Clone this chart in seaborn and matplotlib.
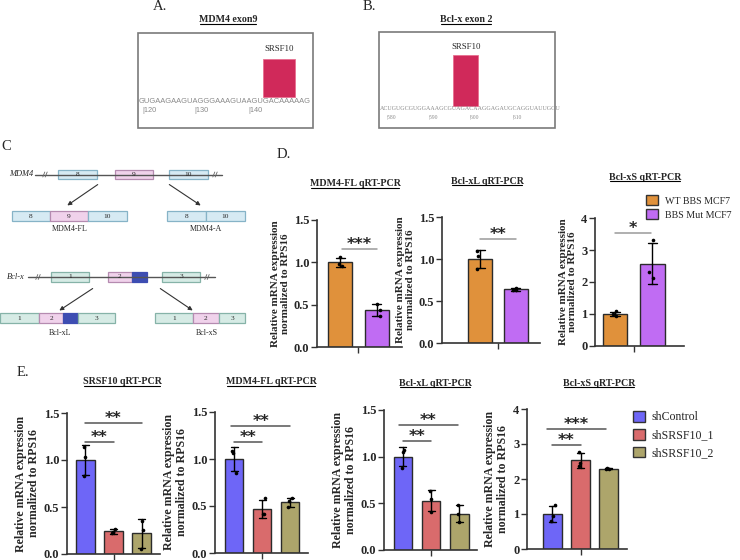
import numpy as np
import pandas as pd
import matplotlib
matplotlib.use('Agg')
import matplotlib.pyplot as plt
import seaborn as sns
from matplotlib.patches import Rectangle, Patch
from matplotlib.lines import Line2D

sns.set_style('ticks')
plt.rcParams['font.family'] = ['Liberation Serif', 'DejaVu Serif']
np.random.seed(3)

W, H = 740, 560

# ---- panel D data (BBS mutant) ----
d_groups = ['WT BBS MCF7', 'BBS Mut MCF7']
d_colors = ['#e0913b', '#c06cf3']
d_titles = ['MDM4-FL qRT-PCR', 'Bcl-xL qRT-PCR', 'Bcl-xS qRT-PCR']
d_reps = [
    [[1.06, 0.96, 0.98], [0.51, 0.44, 0.37]],
    [[1.09, 1.03, 0.88], [0.66, 0.63, 0.63]],
    [[1.08, 0.99, 0.93], [3.30, 2.30, 2.12]],
]
d_sig = [
    [(0.05, 1.0, 1.16, '***')],
    [(0.0, 1.0, 1.24, '**')],
    [(0.0, 0.95, 3.53, '*')],
]

# ---- panel E data (SRSF10 knockdown) ----
e_groups = ['shControl', 'shSRSF10_1', 'shSRSF10_2']
e_colors = ['#6e66f7', '#d96b6c', '#ada56b']
e_titles = ['SRSF10 qRT-PCR', 'MDM4-FL qRT-PCR', 'Bcl-xL qRT-PCR', 'Bcl-xS qRT-PCR']
e_reps = [
    [[1.14, 1.03, 0.83], [0.27, 0.23, 0.22], [0.35, 0.26, 0.05]],
    [[1.09, 1.06, 0.85], [0.58, 0.42, 0.41], [0.58, 0.55, 0.49]],
    [[1.07, 1.05, 0.88], [0.63, 0.55, 0.41], [0.48, 0.39, 0.30]],
    [[1.27, 0.93, 0.80], [2.78, 2.45, 2.36], [2.31, 2.30, 2.29]],
]
e_sig = [
    [(0, 1, 1.19, '**'), (0, 2, 1.39, '**')],
    [(0, 1, 1.18, '**'), (-0.1, 2, 1.35, '**')],
    [(0, 1, 1.17, '**'), (-0.15, 1.95, 1.34, '**')],
    [(0, 1, 2.97, '**'), (-0.2, 1.9, 3.43, '***')],
]

seq_a = 'GUGAAGAAGUAGGGAAAGUAAGUGACAAAAAG'
seq_b = 'ACUGUGCGUGGAAAGCGUAGACAAGGAGAUGCAGGUAUUGGU'

fig = plt.figure(figsize=(7.4, 5.6), dpi=100)
cv = fig.add_axes([0, 0, 1, 1])
cv.set_xlim(0, W)
cv.set_ylim(H, 0)
cv.axis('off')

underlined = []


def px_axes(x0, y0, x1, y1):
    return fig.add_axes([x0 / W, 1 - y1 / H, (x1 - x0) / W, (y1 - y0) / H])


def title(x, y, s, size=7.2):
    t = cv.text(x, y, s, ha='center', va='center', fontsize=size, fontweight='bold')
    underlined.append(t)


# panel letters
for x, y, s in [(160, 6, 'A.'), (369, 6, 'B.'), (6, 147, 'C'), (284, 154, 'D.'), (23, 373, 'E.')]:
    cv.text(x, y, s, ha='center', va='center', fontsize=10.5)

# ---- panel A / B: binding site boxes ----
title(228, 20, 'MDM4 exon9')
cv.add_patch(Rectangle((138, 33), 175, 95, fill=False, ec='#7a7a7a', lw=1.2))
cv.add_patch(Rectangle((263, 59), 32, 38, fc='#d0295a', ec='#e87090', lw=0.6))
cv.text(279, 49, 'SRSF10', ha='center', va='center', fontsize=6.3)
cv.text(138.5, 101.5, seq_a, ha='left', va='center', fontsize=5.45, color='#8a8a8a',
        family='Liberation Sans')
for x, s in [(142, '|120'), (194, '|130'), (248, '|140')]:
    cv.text(x, 111, s, ha='left', va='center', fontsize=5.3, color='#8a8a8a', family='Liberation Sans')

title(466, 20, 'Bcl-x exon 2')
cv.add_patch(Rectangle((379, 32), 176, 96, fill=False, ec='#7a7a7a', lw=1.2))
cv.add_patch(Rectangle((453, 55), 25, 51, fc='#d0295a', ec='#e87090', lw=0.6))
cv.text(466, 47, 'SRSF10', ha='center', va='center', fontsize=6.3)
cv.text(379.5, 109, seq_b, ha='left', va='center', fontsize=4.3, color='#8a8a8a')
for x, s in [(387, '|580'), (429, '|590'), (470, '|600'), (513, '|610')]:
    cv.text(x, 117, s, ha='left', va='center', fontsize=4.0, color='#8a8a8a')

# ---- panel C: splicing diagram ----
blue_fc, blue_ec = '#d6eaf3', '#86b3c7'
pink_fc, pink_ec = '#f0d2eb', '#b58bb0'
teal_fc, teal_ec = '#d6ebe5', '#86b3a8'
dark_fc = '#3d4db2'


def exon(x0, x1, y0, y1, fc, ec, lab=None):
    cv.add_patch(Rectangle((x0, y0), x1 - x0, y1 - y0, fc=fc, ec=ec, lw=0.9))
    if lab:
        cv.text((x0 + x1) / 2, (y0 + y1) / 2, lab, ha='center', va='center', fontsize=5.3)


def brk(x, y):
    for dx in (-1.2, 1.2):
        cv.plot([x + dx - 1, x + dx + 1], [y + 2.5, y - 2.5], color='#666', lw=0.6)


def arrow(x0, y0, x1, y1):
    cv.annotate('', xy=(x1, y1), xytext=(x0, y0),
                arrowprops=dict(arrowstyle='-|>', color='#333', lw=0.8, mutation_scale=6))


# MDM4 gene
cv.plot([35, 222], [174.5, 174.5], color='#555', lw=1)
brk(45, 174.5)
brk(215, 174.5)
cv.text(21, 174.5, 'MDM4', ha='center', va='center', fontsize=6, style='italic')
exon(58, 97, 170, 179, blue_fc, blue_ec, '8')
exon(115, 153, 170, 179, pink_fc, pink_ec, '9')
exon(169, 208, 170, 179, blue_fc, blue_ec, '10')
arrow(100, 183, 65, 207)
arrow(167, 183, 203, 207)
exon(12, 50, 211, 221, blue_fc, blue_ec, '8')
exon(50, 88, 211, 221, pink_fc, pink_ec, '9')
exon(88, 127, 211, 221, blue_fc, blue_ec, '10')
cv.text(70, 229, 'MDM4-FL', ha='center', va='center', fontsize=5.8)
exon(167, 206, 211, 221, blue_fc, blue_ec, '8')
exon(206, 245, 211, 221, blue_fc, blue_ec, '10')
cv.text(206, 229, 'MDM4-A', ha='center', va='center', fontsize=5.8)

# Bcl-x gene
cv.plot([28, 215], [277, 277], color='#555', lw=1)
brk(38, 277)
brk(207, 277)
cv.text(16, 277, 'Bcl-x', ha='center', va='center', fontsize=6, style='italic')
exon(51, 89, 272, 282, teal_fc, teal_ec, '1')
exon(108, 132, 272, 282, pink_fc, pink_ec, '2')
exon(132, 147, 272, 282, dark_fc, dark_fc)
exon(162, 200, 272, 282, teal_fc, teal_ec, '3')
arrow(95, 287, 57, 312)
arrow(158, 287, 195, 312)
exon(0, 39, 313, 323, teal_fc, teal_ec, '1')
exon(39, 63, 313, 323, pink_fc, pink_ec, '2')
exon(63, 78, 313, 323, dark_fc, dark_fc)
exon(78, 115, 313, 323, teal_fc, teal_ec, '3')
cv.text(60, 333, 'Bcl-xL', ha='center', va='center', fontsize=5.8)
exon(155, 193, 313, 323, teal_fc, teal_ec, '1')
exon(193, 219, 313, 323, pink_fc, pink_ec, '2')
exon(219, 245, 313, 323, teal_fc, teal_ec, '3')
cv.text(207, 333, 'Bcl-xS', ha='center', va='center', fontsize=5.8)


# ---- bar charts ----
def bar_panel(box, xlim, ylim, yticks, fmt, groups, colors, reps, sig, mid, sig_color, lab_size):
    ax = px_axes(*box)
    df = pd.DataFrame({'group': np.repeat(groups, 3), 'value': np.concatenate(reps)})
    sns.barplot(data=df, x='group', y='value', hue='group', order=groups, hue_order=groups,
                palette=colors, saturation=1, errorbar='sd', capsize=0.25, width=0.66,
                edgecolor='#2b2b2b', linewidth=1, err_kws={'color': 'black', 'linewidth': 1},
                legend=False, ax=ax)
    sns.stripplot(data=df, x='group', y='value', order=groups, color='black', size=2.6,
                  jitter=0.1, ax=ax, zorder=5)
    for x1, x2, y, s in sig:
        ax.plot([x1, x2], [y, y], color=sig_color, lw=1.1, clip_on=False)
        ax.text((x1 + x2) / 2, y, s, ha='center', va='baseline', fontsize=11.5,
                fontweight='bold', family='DejaVu Sans', clip_on=False)
    ax.set_xlim(*xlim)
    ax.set_ylim(*ylim)
    ax.set_yticks(yticks)
    ax.set_yticklabels([fmt.format(t) for t in yticks], fontweight='bold', fontsize=9)
    ax.set_xticks([mid])
    ax.set_xticklabels([])
    ax.set_xlabel('')
    ax.set_ylabel('Relative mRNA expression\nnormalized to RPS16', fontweight='bold',
                  fontsize=lab_size, linespacing=1.05, labelpad=3)
    ax.tick_params(axis='both', direction='out', length=4, width=1, color='#333', pad=1.5)
    ax.spines[['top', 'right']].set_visible(False)
    for sp in ('left', 'bottom'):
        ax.spines[sp].set_linewidth(1.2)
        ax.spines[sp].set_color('#333')
    ax.set_facecolor('none')
    return ax


d_boxes = [(317, 220, 402, 347), (442, 217, 540, 343), (595, 218, 684, 346)]
d_xlims = [(-0.63, 1.69), (-1.06, 1.67), (-0.53, 1.84)]
d_ylims = [(0, 1.5), (0, 1.5), (0, 4)]
d_ticks = [[0, 0.5, 1.0, 1.5], [0, 0.5, 1.0, 1.5], [0, 1, 2, 3, 4]]
d_fmt = ['{:.1f}', '{:.1f}', '{:.0f}']
d_title_pos = [(355, 184), (487, 181), (645, 177)]
for i in range(3):
    bar_panel(d_boxes[i], d_xlims[i], d_ylims[i], d_ticks[i], d_fmt[i], d_groups, d_colors,
              d_reps[i], d_sig[i], 0.5, '#9a9a9a', 8)
    title(*d_title_pos[i], d_titles[i])

e_boxes = [(67, 413, 160, 554), (215, 412, 308, 553), (384, 410, 477, 550), (527, 409, 627, 549)]
e_xlims = [(-0.65, 2.65), (-0.68, 2.64), (-0.67, 2.63), (-0.91, 2.66)]
e_ylims = [(0, 1.5), (0, 1.5), (0, 1.5), (0, 4)]
e_ticks = [[0, 0.5, 1.0, 1.5]] * 3 + [[0, 1, 2, 3, 4]]
e_fmt = ['{:.1f}'] * 3 + ['{:.0f}']
e_title_pos = [(122, 382), (271, 382), (435, 383), (599, 383)]
for i in range(4):
    bar_panel(e_boxes[i], e_xlims[i], e_ylims[i], e_ticks[i], e_fmt[i], e_groups, e_colors,
              e_reps[i], e_sig[i], 1, '#555555', 8.6)
    title(*e_title_pos[i], e_titles[i])

# legends
fig.legend(handles=[Patch(fc=c, ec='#333', lw=1, label=g) for g, c in zip(d_groups, d_colors)],
           loc='upper left', bbox_to_anchor=(646 / W, 1 - 195 / H), frameon=False, fontsize=7.2,
           handlelength=1.2, handleheight=1.2, handletextpad=0.7, labelspacing=0.35,
           borderpad=0, borderaxespad=0)
fig.legend(handles=[Patch(fc=c, ec='#333', lw=1, label=g) for g, c in zip(e_groups, e_colors)],
           loc='upper left', bbox_to_anchor=(633 / W, 1 - 411 / H), frameon=False, fontsize=8.6,
           handlelength=1.0, handleheight=1.0, handletextpad=0.55, labelspacing=0.45,
           borderpad=0, borderaxespad=0)

# underline titles
fig.canvas.draw()
r = fig.canvas.get_renderer()
for t in underlined:
    bb = t.get_window_extent(r)
    y = (bb.y0 + 0.5) / H
    fig.add_artist(Line2D([(bb.x0 + 1) / W, (bb.x1 - 1) / W], [y, y], color='black', lw=0.8))

fig.savefig('out.png', dpi=100, facecolor='white')
